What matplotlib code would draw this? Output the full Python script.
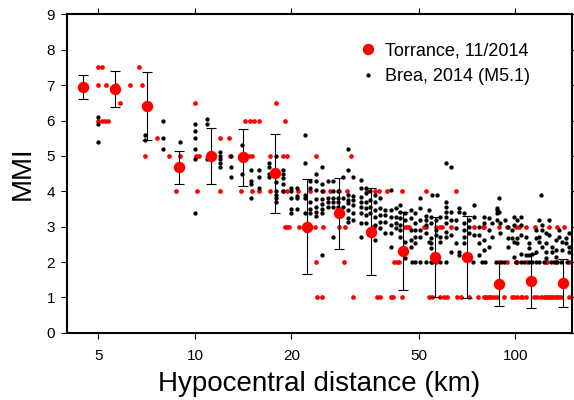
import matplotlib
matplotlib.use("Agg")
import matplotlib.pyplot as plt
from matplotlib.lines import Line2D

plt.rcParams['font.family'] = ['Liberation Sans', 'DejaVu Sans']

# Torrance, 11/2014 individual reports: distances (km) per MMI level
torr_levels = [7.5, 7.0, 6.5, 6.0, 5.5, 5.0, 4.0, 3.0, 2.0, 1.0]
torr_dists = [
    [5.0, 5.12, 6.67],
    [5.0, 5.27, 5.67, 6.26, 6.82],
    [5.85, 10.0, 17.9],
    [5.0, 5.12, 5.24, 5.35, 14.36, 14.89, 15.26, 15.81, 19.16],
    [7.6, 12.0, 12.77],
    [7.0, 8.33, 9.0, 10.1, 10.3, 12.9, 13.85, 14.7, 15.1, 17.1, 18.85, 19.4, 23.8, 30.6],
    [8.75, 10.15, 12.0, 13.95, 15.1, 15.8, 17.1, 18.9, 19.4, 21.0, 22.9, 25.2, 26.5,
     28.1, 29.9, 34.5, 36.6, 37.5, 39.8, 44.4, 52.5, 65.1],
    [19.06, 19.4, 19.7, 21.08, 23.65, 25.2, 28.1, 29.5, 35.8, 36.2, 45.4, 46.0, 46.5,
     51.8, 52.5, 56.4, 58.4, 59.1, 62.8, 74.2, 79.2, 79.8, 88.9, 94.4, 100.2, 102.6,
     107.7, 115.1, 127.4, 135.3, 141.8],
    [23.8, 29.1, 41.8, 42.8, 43.3, 54.9, 56.4, 88.9, 94.4, 100.2, 100.9, 109.0, 124.4,
     125.8, 133.7, 147.6],
    [24.1, 24.9, 31.2, 37.05, 37.8, 40.8, 41.6, 44.4, 53.7, 55.0, 58.4, 59.8, 61.2, 65.9,
     67.5, 71.6, 76.6, 79.8, 80.4, 81.8, 82.7, 83.7, 85.8, 87.4, 92.1, 98.0, 99.2, 101.5,
     103.9, 105.2, 107.7, 114.3, 117.0, 120.0, 122.9, 124.4, 125.8, 127.4, 128.9, 130.5,
     132.9, 135.3, 136.9, 138.5, 147.3],
]

# Brea, 2014 (M5.1): (distance km, [MMI values])
brea_cols = [
    (5.0, [6.1, 5.9, 5.4]),
    (7.0, [5.6, 5.45]),
    (7.97, [6.0, 5.5, 5.2]),
    (9.0, [5.4]),
    (10.0, [5.9, 5.7, 5.5, 5.2, 4.9, 3.4]),
    (10.9, [6.05, 5.9, 4.9]),
    (12.0, [5.1, 5.0, 4.9, 4.8, 4.7]),
    (12.95, [5.0, 4.7, 4.4]),
    (14.0, [5.3, 4.5]),
    (15.0, [4.6, 4.3, 4.2, 3.8]),
    (15.9, [4.6, 4.4, 4.1]),
    (17.0, [4.8, 4.7, 4.5, 4.4]),
    (17.9, [5.0, 4.25, 4.0, 3.9, 3.8, 3.7]),
    (18.9, [4.6, 4.5, 4.37, 4.2, 4.0]),
    (20.0, [4.08, 4.0, 3.8, 3.5, 3.4]),
    (20.9, [4.08, 3.87, 3.8, 3.5]),
    (22.0, [5.6, 4.8, 3.9, 3.8, 3.4]),
    (22.9, [4.3, 4.08, 3.7, 3.5, 3.4]),
    (23.9, [4.5, 4.3, 4.04, 3.77, 3.56, 3.42, 3.3]),
    (24.9, [4.7, 4.2, 4.0, 3.77, 3.64, 3.49, 3.38, 2.2]),
    (26.0, [4.3, 3.8, 3.71, 3.56]),
    (26.9, [4.3, 4.0, 3.8, 3.71, 3.56, 2.7]),
    (27.9, [4.0, 3.8, 3.71, 3.56]),
    (29.0, [4.41, 3.8, 3.56]),
    (30.0, [5.2, 4.6, 3.9, 3.75, 3.66, 3.47, 3.24, 3.14]),
    (31.1, [4.41, 3.87, 3.75, 3.61, 3.38, 3.19]),
    (32.9, [4.32, 4.08, 3.85, 3.71, 3.56, 3.38, 3.1, 2.72]),
    (34.1, [4.08, 3.94, 3.71, 3.52, 3.33, 3.1]),
    (35.3, [4.0, 3.75, 3.56, 3.38]),
    (36.6, [3.9, 3.71, 3.47, 3.28, 3.05, 2.62]),
    (37.9, [3.8, 3.52, 3.33, 3.14, 2.95]),
    (39.3, [3.47, 3.33, 3.14, 2.81]),
    (40.8, [4.04, 3.47, 3.28, 3.05, 2.81, 2.43]),
    (42.3, [3.52, 3.28, 3.1, 2.95]),
    (43.8, [3.61, 3.42, 3.24, 3.05, 2.91, 2.72]),
    (45.4, [3.38, 3.19, 2.58, 2.11]),
    (47.1, [3.47, 3.24, 2.91, 2.62, 2.43]),
    (47.7, [2.0]),
    (48.8, [3.38, 3.1, 2.91, 2.72, 2.53, 2.0]),
    (50.6, [3.8, 3.52, 3.19, 2.91, 2.72, 2.0]),
    (52.5, [3.3, 3.19, 3.05, 2.81, 2.0]),
    (53.7, [3.47, 2.58]),
    (54.4, [3.28, 3.1, 2.67, 2.53, 2.39, 2.0]),
    (54.8, [3.9]),
    (56.4, [3.19, 2.91, 2.77]),
    (56.8, [3.9]),
    (58.4, [3.28, 2.72, 2.58, 2.0]),
    (60.6, [4.81, 3.71, 3.56, 3.42, 3.28, 3.1, 2.86, 2.72, 2.0]),
    (62.8, [4.7, 3.42, 3.19, 2.77, 2.29]),
    (65.1, [3.19, 2.95, 2.53]),
    (66.6, [3.52, 3.42, 2.29, 2.2]),
    (69.1, [3.38, 3.1, 2.91, 2.72, 2.53]),
    (71.6, [3.19, 3.0, 2.81]),
    (73.7, [2.0]),
    (74.2, [3.61, 3.28, 2.77]),
    (77.0, [3.0, 2.77, 2.53, 2.2]),
    (78.9, [2.0]),
    (79.8, [3.28, 3.1, 2.62, 2.34]),
    (80.7, [2.0]),
    (82.7, [3.24, 2.91, 2.43]),
    (84.8, [3.1, 2.72]),
    (86.8, [2.0]),
    (87.9, [3.52, 3.47, 3.38, 3.19]),
    (88.9, [3.8, 3.42]),
    (89.3, [3.1, 2.81]),
    (90.0, [2.0]),
    (92.2, [2.0]),
    (92.8, [3.19]),
    (95.1, [3.0, 2.67, 2.43]),
    (98.0, [2.91, 2.67]),
    (99.2, [3.28, 3.05, 2.58, 2.15]),
    (100.2, [2.0]),
    (101.5, [3.19, 2.67, 2.53]),
    (103.9, [3.28, 3.05, 2.77, 2.24, 2.0]),
    (106.4, [2.0]),
    (107.7, [2.72, 2.2]),
    (110.2, [2.53, 2.39, 2.2, 2.0]),
    (112.9, [2.24, 2.0]),
    (115.7, [2.91, 2.67, 2.29, 2.0]),
    (118.5, [3.19, 2.72, 2.58, 2.0]),
    (120.0, [3.9]),
    (121.5, [3.05, 2.91, 2.43]),
    (122.9, [2.0]),
    (124.4, [2.81, 2.53, 2.29, 2.11]),
    (127.4, [3.19, 2.77]),
    (128.9, [2.0]),
    (130.5, [2.43, 2.29]),
    (132.0, [2.0]),
    (133.6, [2.62, 2.34, 2.15]),
    (135.3, [2.0]),
    (136.9, [2.91, 2.72]),
    (138.5, [2.0]),
    (140.3, [2.58, 2.34]),
    (143.7, [2.67, 2.53]),
    (145.5, [2.0]),
    (147.3, [2.81, 2.43, 2.29]),
]

# binned Torrance means with standard deviations
bin_dist = [4.47, 5.62, 7.08, 8.91, 11.2, 14.1, 17.8, 22.4, 28.2, 35.5, 44.7, 56.2, 70.8, 89.1, 112.2, 141.3]
bin_mmi = [6.95, 6.89, 6.41, 4.68, 5.0, 4.96, 4.51, 3.0, 3.38, 2.86, 2.31, 2.14, 2.13, 1.37, 1.47, 1.42]
bin_sd = [0.35, 0.52, 0.97, 0.46, 0.8, 0.8, 1.12, 1.34, 1.0, 1.24, 1.1, 1.13, 1.16, 0.61, 0.76, 0.68]

xticks = [5, 10, 20, 50, 100]
yticks = list(range(0, 10))

fig = plt.figure(figsize=(5.74, 4.0), dpi=100)
ax = fig.add_axes([0.1162, 0.168, 0.8798, 0.796])

tx, ty = [], []
for lev, ds in zip(torr_levels, torr_dists):
    tx += ds
    ty += [lev] * len(ds)
ax.plot(tx, ty, 'o', color='red', ms=3.4, mew=0, zorder=2)

bx, by = [], []
for d, vals in brea_cols:
    bx += [d] * len(vals)
    by += vals
ax.plot(bx, by, 'o', color='black', ms=3.1, mew=0, zorder=3)

ax.errorbar(bin_dist, bin_mmi, yerr=bin_sd, fmt='none', ecolor='black',
            elinewidth=0.8, capsize=3.4, capthick=0.8, zorder=4)
ax.plot(bin_dist, bin_mmi, 'o', color='red', ms=8.2, mew=0, zorder=5)

ax.set_xscale('log')
ax.set_xlim(3.98, 150)
ax.set_ylim(0, 9)
ax.set_xticks(xticks)
ax.set_xticklabels([str(t) for t in xticks])
ax.minorticks_off()
ax.set_yticks(yticks)
ax.tick_params(direction='out', length=4.5, width=0.8, labelsize=11, top=True, right=True, pad=4)
ax.tick_params(axis='x', pad=7)
for s in ax.spines.values():
    s.set_linewidth(1.5)

ax.set_xlabel('Hypocentral distance (km)', fontsize=20, labelpad=6)
ax.set_ylabel('MMI', fontsize=20, labelpad=8)

handles = [Line2D([], [], ls='none', marker='o', color='red', ms=8.2, mew=0),
           Line2D([], [], ls='none', marker='o', color='black', ms=3.1, mew=0)]
ax.legend(handles, ['Torrance, 11/2014', 'Brea, 2014 (M5.1)'], loc='upper left',
          bbox_to_anchor=(0.565, 0.935), frameon=False, fontsize=13,
          handlelength=1.0, handletextpad=0.45, labelspacing=0.5, borderaxespad=0)

fig.savefig('out.png', dpi=100)
